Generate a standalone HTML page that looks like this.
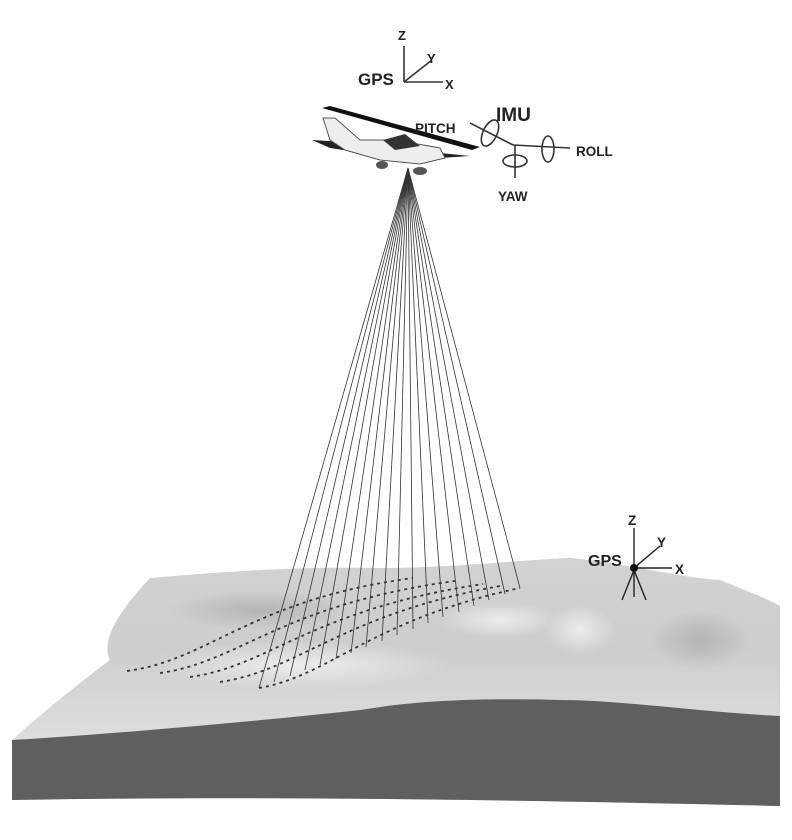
<!DOCTYPE html>
<html><head><meta charset="utf-8"><style>
html,body{margin:0;padding:0;background:#fff;}
svg{display:block;}
text{font-family:"Liberation Sans",sans-serif;font-weight:bold;fill:#222;}
</style></head><body>
<svg width="792" height="840" viewBox="0 0 792 840" xmlns="http://www.w3.org/2000/svg">
<defs>
<linearGradient id="surf" x1="0" y1="0" x2="0" y2="1">
<stop offset="0" stop-color="#d2d2d2"/><stop offset="0.5" stop-color="#cdcdcd"/><stop offset="1" stop-color="#dedede"/>
</linearGradient>
<radialGradient id="hl" cx="0.5" cy="0.5" r="0.5"><stop offset="0" stop-color="#ececec"/><stop offset="1" stop-color="#ececec" stop-opacity="0"/></radialGradient>
<radialGradient id="dk" cx="0.5" cy="0.5" r="0.5"><stop offset="0" stop-color="#b4b4b4"/><stop offset="1" stop-color="#b4b4b4" stop-opacity="0"/></radialGradient>
</defs>
<path d="M150,578 C220,572 300,566 380,568 C450,568 520,560 570,558 C620,562 680,578 720,580 C745,590 770,600 780,606 L780,716 C700,712 620,700 560,700 C480,698 420,700 360,710 C250,722 100,735 12,740 C40,715 70,690 110,660 C100,640 120,610 150,578 Z" fill="url(#surf)"/>
<ellipse cx="260" cy="610" rx="90" ry="20" fill="url(#dk)"/>
<ellipse cx="700" cy="640" rx="50" ry="30" fill="url(#dk)"/>
<ellipse cx="580" cy="630" rx="35" ry="25" fill="url(#hl)"/>
<ellipse cx="300" cy="665" rx="150" ry="25" fill="url(#hl)"/>
<ellipse cx="500" cy="620" rx="60" ry="18" fill="url(#hl)"/>
<path d="M12,740 C100,735 250,722 360,710 C420,700 480,698 560,700 C620,700 700,712 780,716 L780,806 C600,802 300,795 12,800 Z" fill="#5f5f5f"/>
<g stroke="#333" stroke-width="0.8">
<line x1="408" y1="168" x2="259" y2="688"/><line x1="408" y1="168" x2="274" y2="682"/>
<line x1="408" y1="168" x2="290" y2="676"/><line x1="408" y1="168" x2="305" y2="670"/>
<line x1="408" y1="168" x2="320" y2="665"/><line x1="408" y1="168" x2="336" y2="659"/>
<line x1="408" y1="168" x2="351" y2="653"/><line x1="408" y1="168" x2="366" y2="647"/>
<line x1="408" y1="168" x2="382" y2="641"/><line x1="408" y1="168" x2="397" y2="635"/>
<line x1="408" y1="168" x2="413" y2="629"/><line x1="408" y1="168" x2="428" y2="623"/>
<line x1="408" y1="168" x2="443" y2="617"/><line x1="408" y1="168" x2="459" y2="612"/>
<line x1="408" y1="168" x2="474" y2="606"/><line x1="408" y1="168" x2="489" y2="600"/>
<line x1="408" y1="168" x2="505" y2="594"/><line x1="408" y1="168" x2="520" y2="588"/>
</g>
<g fill="none" stroke="#333" stroke-width="1.8" stroke-dasharray="3 4">
<path d="M127,671 C210,660 250,600 413,578"/>
<path d="M160,673 C240,662 280,605 455,581"/>
<path d="M190,677 C270,666 310,610 483,584"/>
<path d="M220,682 C300,670 340,615 500,586"/>
<path d="M259,688 C330,676 370,620 520,588"/>
</g>
<g stroke="#333" stroke-width="1.6" fill="none">
<line x1="404" y1="82" x2="404" y2="46"/><line x1="404" y1="82" x2="443" y2="82"/><line x1="404" y1="82" x2="432" y2="60"/>
</g>
<text x="398" y="40" font-size="13">Z</text>
<text x="358" y="85" font-size="17">GPS</text>
<text x="427" y="63" font-size="13">Y</text>
<text x="445" y="89" font-size="13">X</text>
<path d="M322,108 L330,106 L480,147 L472,150 Z" fill="#111"/>
<path d="M312,140 L345,142 L430,152 L470,156 L410,160 L330,148 Z" fill="#222"/>
<path d="M323,118 L335,118 L360,140 L395,140 L440,148 L445,158 L420,164 L380,160 L345,150 L330,140 Z" fill="#eee" stroke="#555" stroke-width="1"/>
<path d="M383,140 L405,134 L420,146 L395,150 Z" fill="#333"/>
<ellipse cx="382" cy="165" rx="6" ry="4" fill="#555"/><ellipse cx="420" cy="171" rx="7" ry="4" fill="#555"/>
<g stroke="#333" stroke-width="1.6" fill="none">
<line x1="470" y1="123" x2="513" y2="145"/><line x1="513" y1="145" x2="570" y2="148"/>
<line x1="515" y1="145" x2="515" y2="178"/>
<ellipse cx="490" cy="133" rx="7" ry="14" transform="rotate(25 490 133)"/>
<ellipse cx="548" cy="149" rx="6" ry="13"/>
<ellipse cx="515" cy="161" rx="12" ry="6"/>
</g>
<text x="496" y="121" font-size="19">IMU</text>
<text x="415" y="133" font-size="13.5">PITCH</text>
<text x="576" y="156" font-size="13.5">ROLL</text>
<text x="498" y="201" font-size="13.5">YAW</text>
<g stroke="#222" stroke-width="1.4" fill="none">
<line x1="634" y1="568" x2="634" y2="528"/><line x1="634" y1="568" x2="672" y2="568"/><line x1="634" y1="568" x2="660" y2="546"/>
<line x1="634" y1="570" x2="622" y2="600"/><line x1="634" y1="570" x2="646" y2="600"/><line x1="634" y1="570" x2="634" y2="597"/>
</g>
<circle cx="634" cy="568" r="4" fill="#111"/>
<text x="628" y="525" font-size="13.5">Z</text>
<text x="588" y="566" font-size="16">GPS</text>
<text x="657" y="547" font-size="13.5">Y</text>
<text x="675" y="574" font-size="13.5">X</text>
</svg>
</body></html>
